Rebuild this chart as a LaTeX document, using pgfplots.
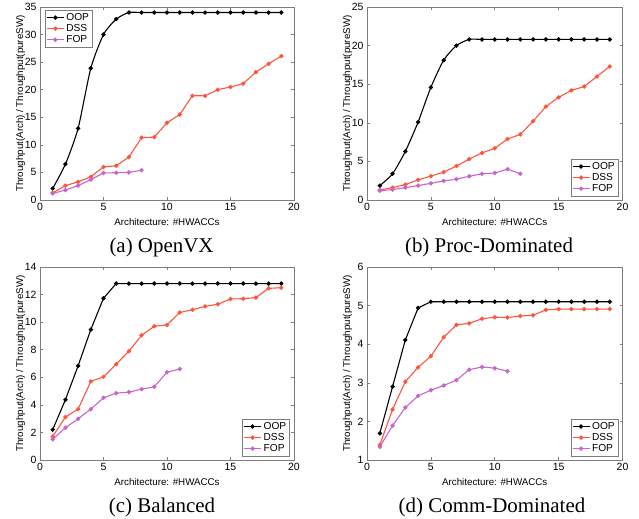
\documentclass[border=0pt]{standalone}
\usepackage{fontspec}
\setmainfont{Liberation Serif}
\newfontfamily\arial{Liberation Sans}
\usepackage{pgfplots}
\pgfplotsset{compat=1.18}
\definecolor{dss}{RGB}{255,85,60}
\definecolor{fop}{RGB}{200,100,205}
\definecolor{axgray}{RGB}{125,125,125}
\pgfplotsset{
  myax/.style={
    scale only axis, width=254bp, height=193bp, anchor=south west,
    xmin=0, xmax=20, xtick={0,5,...,20},
    axis line style={axgray, line width=0.6pt},
    tick style={axgray, line width=0.6pt},
    tick align=inside, major tick length=3bp,
    tick label style={font=\arial\fontsize{10.5}{12}\selectfont},
    /pgf/number format/assume math mode=true,
    xlabel={Architecture: \#HWACCs},
    ylabel={Throughput(Arch) / Throughput(pureSW)},
    label style={font=\arial\fontsize{9.8}{11}\selectfont},
    xlabel style={at={(axis description cs:0.5,0)}, anchor=center, yshift=-22bp},
    ylabel style={at={(axis description cs:0,0.5)}, anchor=center, yshift=19.5bp},
    legend style={font=\arial\fontsize{10.2}{11}\selectfont, draw=axgray, inner sep=1pt, row sep=-1.5pt},
    legend cell align=left,
    every axis plot/.append style={line width=1.1pt, mark=*, mark size=1.6pt},
  }
}
\begin{document}
\begin{tikzpicture}
\path[use as bounding box] (0,0) rectangle (639bp,-519bp);
% (a)
\begin{axis}[myax, at={(40bp,-200bp)}, ymin=0, ymax=35, ytick={0,5,...,35},
  legend style={at={(0.02,0.984)}, anchor=north west}]
\addplot[black, smooth, tension=0.4] coordinates {(1,2.1)(2,6.5)(3,13.0)(4,23.9)(5,30.0)(6,32.8)(7,34)(8,34)(9,34)(10,34)(11,34)(12,34)(13,34)(14,34)(15,34)(16,34)(17,34)(18,34)(19,34)};
\addplot[dss] coordinates {(1,1.3)(2,2.6)(3,3.3)(4,4.2)(5,6.0)(6,6.2)(7,7.8)(8,11.3)(9,11.4)(10,14.0)(11,15.5)(12,18.9)(13,18.9)(14,20.0)(15,20.5)(16,21.1)(17,23.2)(18,24.7)(19,26.1)};
\addplot[fop] coordinates {(1,1.2)(2,1.8)(3,2.6)(4,3.7)(5,4.9)(6,4.95)(7,5.0)(8,5.4)};
\legend{OOP,DSS,FOP}
\end{axis}
% (b)
\begin{axis}[myax, at={(367bp,-200bp)}, width=255.5bp, ymin=0, ymax=25, ytick={0,5,...,25},
  legend style={at={(0.982,0.02)}, anchor=south east}]
\addplot[black, smooth, tension=0.4] coordinates {(1,1.86)(2,3.4)(3,6.3)(4,10.1)(5,14.6)(6,18.1)(7,20.0)(8,20.8)(9,20.8)(10,20.8)(11,20.8)(12,20.8)(13,20.8)(14,20.8)(15,20.8)(16,20.8)(17,20.8)(18,20.8)(19,20.8)};
\addplot[dss] coordinates {(1,1.3)(2,1.6)(3,2.0)(4,2.6)(5,3.1)(6,3.6)(7,4.4)(8,5.3)(9,6.1)(10,6.7)(11,7.9)(12,8.5)(13,10.2)(14,12.1)(15,13.3)(16,14.2)(17,14.7)(18,16.0)(19,17.3)};
\addplot[fop] coordinates {(1,1.2)(2,1.35)(3,1.6)(4,1.86)(5,2.16)(6,2.47)(7,2.7)(8,3.07)(9,3.4)(10,3.5)(11,4.0)(12,3.4)};
\legend{OOP,DSS,FOP}
\end{axis}
% (c)
\begin{axis}[myax, at={(40bp,-460bp)}, ymin=0, ymax=14, ytick={0,2,...,14},
  legend style={at={(0.982,0.02)}, anchor=south east}]
\addplot[black] coordinates {(1,2.2)(2,4.37)(3,6.83)(4,9.46)(5,11.73)(6,12.8)(7,12.8)(8,12.8)(9,12.8)(10,12.8)(11,12.8)(12,12.8)(13,12.8)(14,12.8)(15,12.8)(16,12.8)(17,12.8)(18,12.8)(19,12.8)};
\addplot[dss] coordinates {(1,1.71)(2,3.11)(3,3.69)(4,5.7)(5,6.03)(6,6.95)(7,7.89)(8,9.05)(9,9.7)(10,9.8)(11,10.7)(12,10.9)(13,11.15)(14,11.3)(15,11.68)(16,11.7)(17,11.78)(18,12.45)(19,12.5)};
\addplot[fop] coordinates {(1,1.5)(2,2.34)(3,2.99)(4,3.69)(5,4.51)(6,4.85)(7,4.92)(8,5.14)(9,5.31)(10,6.37)(11,6.6)};
\legend{OOP,DSS,FOP}
\end{axis}
% (d)
\begin{axis}[myax, at={(367bp,-460bp)}, width=255.5bp, ymin=1, ymax=6, ytick={1,2,...,6},
  legend style={at={(0.982,0.02)}, anchor=south east}]
\addplot[black] coordinates {(1,1.69)(2,2.9)(3,4.11)(4,4.94)(5,5.1)(6,5.1)(7,5.1)(8,5.1)(9,5.1)(10,5.1)(11,5.1)(12,5.1)(13,5.1)(14,5.1)(15,5.1)(16,5.1)(17,5.1)(18,5.1)(19,5.1)};
\addplot[dss] coordinates {(1,1.39)(2,2.31)(3,3.03)(4,3.4)(5,3.69)(6,4.18)(7,4.5)(8,4.54)(9,4.66)(10,4.7)(11,4.69)(12,4.73)(13,4.75)(14,4.89)(15,4.91)(16,4.91)(17,4.91)(18,4.91)(19,4.91)};
\addplot[fop] coordinates {(1,1.34)(2,1.89)(3,2.36)(4,2.66)(5,2.81)(6,2.93)(7,3.07)(8,3.34)(9,3.41)(10,3.38)(11,3.3)};
\legend{OOP,DSS,FOP}
\end{axis}
\node[font=\fontsize{21}{24}\selectfont, anchor=base] at (161.5bp,-252bp) {(a) OpenVX};
\node[font=\fontsize{21}{24}\selectfont, anchor=base] at (489bp,-252bp) {(b) Proc-Dominated};
\node[font=\fontsize{21}{24}\selectfont, anchor=base] at (162bp,-512bp) {(c) Balanced};
\node[font=\fontsize{21}{24}\selectfont, anchor=base] at (492bp,-512bp) {(d) Comm-Dominated};
\end{tikzpicture}
\end{document}
